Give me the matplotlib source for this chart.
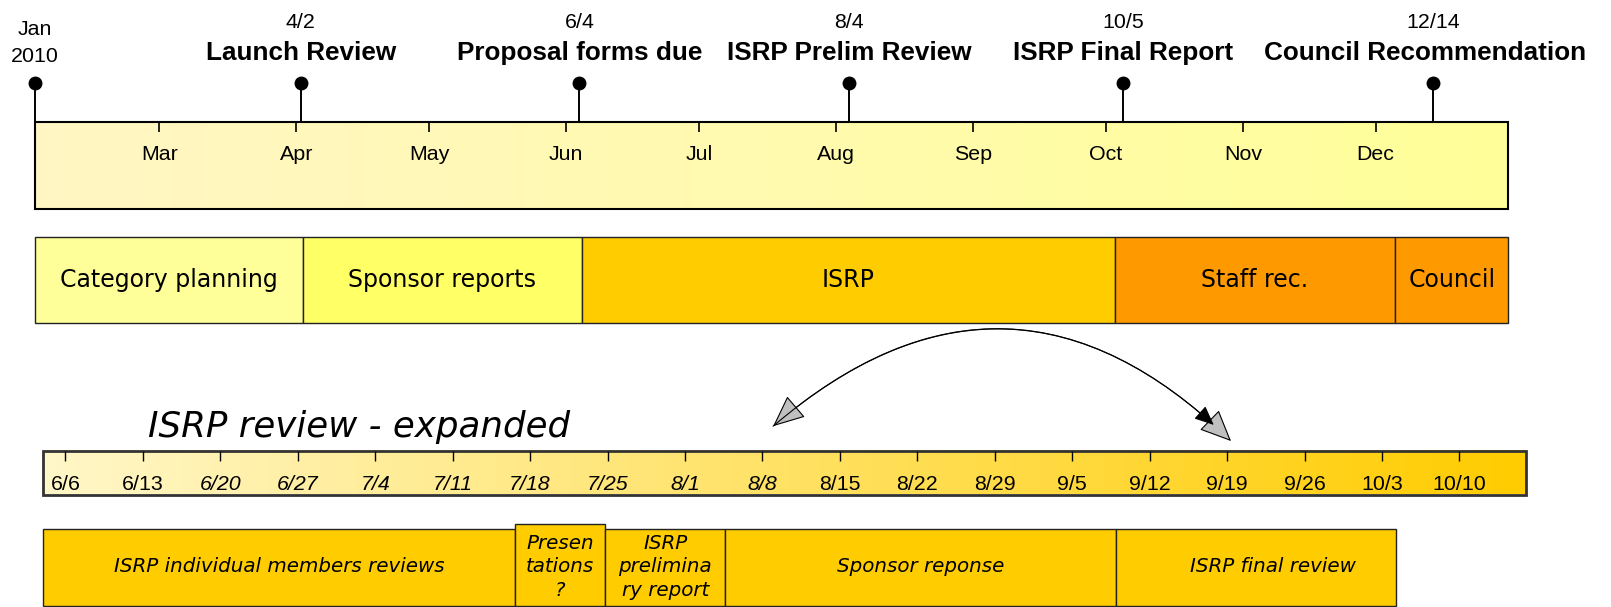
#!/usr/bin/env python3
"""ISRP review timeline, 2010."""

import numpy as np
import matplotlib
matplotlib.use("Agg")
import matplotlib.pyplot as plt
import matplotlib.dates as mdates
from matplotlib.patches import Rectangle, FancyArrowPatch
from matplotlib.colors import LinearSegmentedColormap

# ---- data: year overview ----
year_start = "2010-02-01"
year_end = "2010-12-31"
month_ticks = ["2010-03-01", "2010-04-01", "2010-05-01", "2010-06-01", "2010-07-01",
               "2010-08-01", "2010-09-01", "2010-10-01", "2010-11-01", "2010-12-01"]
month_labels = ["Mar", "Apr", "May", "Jun", "Jul", "Aug", "Sep", "Oct", "Nov", "Dec"]

milestone_dates = ["2010-04-02", "2010-06-04", "2010-08-04", "2010-10-05", "2010-12-14"]
milestone_short = ["4/2", "6/4", "8/4", "10/5", "12/14"]
milestone_names = ["Launch Review", "Proposal forms due", "ISRP Prelim Review",
                   "ISRP Final Report", "Council Recommendation"]

phase_names = ["Category planning", "Sponsor reports", "ISRP", "Staff rec.", "Council"]
phase_starts = ["2010-02-01T00", "2010-04-02T12", "2010-06-04T14", "2010-10-03T02", "2010-12-05T10"]
phase_ends = ["2010-04-02T12", "2010-06-04T14", "2010-10-03T02", "2010-12-05T10", "2010-12-31T00"]
phase_colors = ["#FFFF99", "#FFFF66", "#FFCC00", "#FF9900", "#FF9900"]

# ---- data: ISRP expanded ----
isrp_start = "2010-06-04"
isrp_end = "2010-10-16"
week_ticks = ["2010-06-06", "2010-06-13", "2010-06-20", "2010-06-27", "2010-07-04",
              "2010-07-11", "2010-07-18", "2010-07-25", "2010-08-01", "2010-08-08",
              "2010-08-15", "2010-08-22", "2010-08-29", "2010-09-05", "2010-09-12",
              "2010-09-19", "2010-09-26", "2010-10-03", "2010-10-10"]
week_labels = ["6/6", "6/13", "6/20", "6/27", "7/4", "7/11", "7/18", "7/25", "8/1", "8/8",
               "8/15", "8/22", "8/29", "9/5", "9/12", "9/19", "9/26", "10/3", "10/10"]

task_names = ["ISRP individual members reviews", "Presen\ntations\n?",
              "ISRP\nprelimina\nry report", "Sponsor reponse", "ISRP final review"]
task_starts = ["2010-06-04T00", "2010-07-16T15", "2010-07-24T19", "2010-08-04T15", "2010-09-09T00"]
task_ends = ["2010-07-16T15", "2010-07-24T19", "2010-08-04T15", "2010-09-09T00", "2010-10-04T06"]


def dnum(values):
    return mdates.date2num(np.array(values, dtype="datetime64[h]"))


W, H = 1611, 607
SANS = "Liberation Sans"
TAHOMA = "DejaVu Sans"


def rect(x0, y0, x1, y1):
    return [x0 / W, 1 - y1 / H, (x1 - x0) / W, (y1 - y0) / H]


def gradient_bar(ax, x0, x1, y0, y1, c0, c1, edge, lw):
    cmap = LinearSegmentedColormap.from_list("g", [c0, c1])
    grad = np.linspace(0, 1, 256)[None, :]
    ax.imshow(grad, cmap=cmap, extent=(x0, x1, y1, y0), aspect="auto", zorder=1)
    ax.add_patch(Rectangle((x0, y0), x1 - x0, y1 - y0, fill=False,
                           edgecolor=edge, lw=lw, zorder=3, clip_on=False))


def hide_titles(ax):
    for t in (ax.title, ax._left_title, ax._right_title):
        t.set_visible(False)


def main() -> None:
    fig = plt.figure(figsize=(W / 100, H / 100), dpi=100)

    # ---------- top: year timeline ----------
    ax = fig.add_axes(rect(35.3, 0, 1508.3, 322.7))
    x0, x1 = dnum([year_start, year_end])
    gradient_bar(ax, x0, x1, 122, 209, "#FFF6C4", "#FFFF99", "black", 1.5)

    mx = dnum(month_ticks)
    ax.vlines(mx, 122, 132, color="black", lw=1.2, zorder=4)
    for x, lab in zip(mx, month_labels):
        ax.text(x, 154, lab, ha="center", va="center", fontsize=15.4, family=SANS)

    # start marker
    ax.vlines(x0, 83, 122, color="black", lw=1.4, zorder=4, clip_on=False)
    ax.plot([x0], [83], "o", color="black", ms=9, zorder=5, clip_on=False)
    ax.text(x0, 35, "Jan", ha="center", va="baseline", fontsize=15.4, family=SANS)
    ax.text(x0, 62, "2010", ha="center", va="baseline", fontsize=15.4, family=SANS)

    ms_x = dnum(milestone_dates)
    ax.vlines(ms_x, 83, 122, color="black", lw=1.4, zorder=4, clip_on=False)
    ax.plot(ms_x, [83] * len(ms_x), "o", color="black", ms=9, zorder=5, clip_on=False)
    for i, (x, d, name) in enumerate(zip(ms_x, milestone_short, milestone_names)):
        ax.text(x, 28, d, ha="center", va="baseline", fontsize=15.4, family=SANS)
        # last label is pulled left so it stays inside the page
        shift = -6 if i == len(ms_x) - 1 else 0
        ax.annotate(name, (x, 60), xytext=(shift, 0), textcoords="offset points",
                    ha="center", va="baseline", fontsize=18.8,
                    fontweight="bold", family=SANS)

    ps, pe = dnum(phase_starts), dnum(phase_ends)
    bars = ax.barh(279.7, pe - ps, left=ps, height=86, color=phase_colors,
                   edgecolor="#222222", lw=1.0, zorder=2)
    for b in bars:
        b.set_clip_on(False)
    for s, e, name in zip(ps, pe, phase_names):
        ax.text((s + e) / 2, 280, name, ha="center", va="center",
                fontsize=17, family=TAHOMA)

    ax.set_xlim(x0, x1)
    ax.set_ylim(322.7, 0)
    ax.axis("off")
    hide_titles(ax)

    # ---------- bottom: ISRP expanded ----------
    bx = fig.add_axes(rect(43.3, 380, 1525.8, 607))
    e0, e1 = dnum([isrp_start, isrp_end])
    gradient_bar(bx, e0, e1, 451, 494.5, "#FFF7C8", "#FFCC00", "#333333", 2.0)

    wx = dnum(week_ticks)
    bx.vlines(wx, 451, 461, color="black", lw=1.0, zorder=4)
    for i, (x, lab) in enumerate(zip(wx, week_labels)):
        style = "italic" if 2 <= i <= 9 else "normal"
        bx.text(x, 484, lab, ha="center", va="center", fontsize=15.4,
                family=SANS, style=style, zorder=5)
    bx.text(0.492, 513, "2010", transform=bx.get_xaxis_transform(),
            ha="center", va="center", fontsize=15.4, family=SANS, style="italic")

    ts, te = dnum(task_starts), dnum(task_ends)
    for s, e, name in zip(ts, te, task_names):
        top = 524 if name.startswith("Presen") else 529
        bx.add_patch(Rectangle((s, top), e - s, 606 - top, facecolor="#FFCC00",
                               edgecolor="#222222", lw=1.0, zorder=2, clip_on=False))
        shift = 12 if name == "ISRP final review" else 0
        bx.annotate(name, ((s + e) / 2, 567), xytext=(shift, 0),
                    textcoords="offset points", ha="center", va="center",
                    fontsize=14.3, family=TAHOMA, style="italic",
                    linespacing=1.3, zorder=5)

    bx.set_xlim(e0, e1)
    bx.set_ylim(607, 380)
    bx.axis("off")
    hide_titles(bx)

    fig.text(148 / W, 1 - 436.7 / H, "ISRP review - expanded", ha="left",
             va="baseline", fontsize=25.7, family=TAHOMA, style="italic")

    # ---------- connecting arc ----------
    ov = fig.add_axes([0, 0, 1, 1], zorder=10)
    ov.set_xlim(0, W)
    ov.set_ylim(H, 0)
    ov.axis("off")
    ov.patch.set_alpha(0)
    hide_titles(ov)
    arc = FancyArrowPatch((771, 428), (1233, 443),
                          connectionstyle="arc3,rad=-0.46",
                          arrowstyle="<|-|>,head_length=1.35,head_width=0.6",
                          mutation_scale=15, facecolor="#C0C0C0",
                          edgecolor="black", lw=0.8)
    ov.add_patch(arc)
    tip = FancyArrowPatch((771, 428), (1233, 443),
                          connectionstyle="arc3,rad=-0.46",
                          arrowstyle="-|>,head_length=0.8,head_width=0.35",
                          mutation_scale=15, color="black", lw=0.8,
                          shrinkB=19)
    ov.add_patch(tip)

    fig.savefig("out.png", dpi=100)


if __name__ == "__main__":
    main()
